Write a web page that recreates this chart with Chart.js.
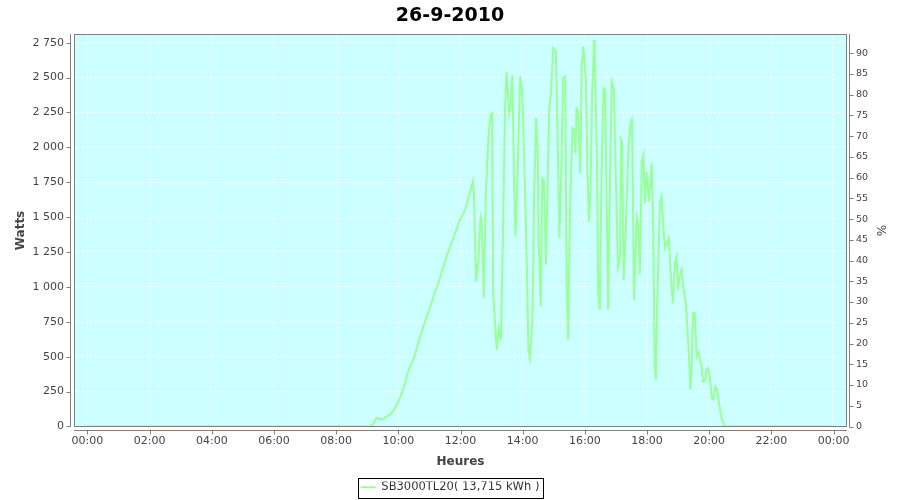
<!DOCTYPE html>
<html>
<head>
<meta charset="utf-8">
<title>26-9-2010</title>
<script src="https://cdn.jsdelivr.net/npm/chart.js@4.4.0/dist/chart.umd.min.js"></script>
<style>
  html, body { margin: 0; padding: 0; background: #fff; }
  #wrap { width: 900px; height: 500px; }
</style>
</head>
<body>
<div id="wrap"><canvas id="chart" width="900" height="500"></canvas></div>
<script>
// time of day in minutes
const minutes = [0, 545, 551, 558, 568, 578, 584, 590, 597, 607,
  613, 619, 626, 632, 642, 655, 668, 680, 693, 706,
  719, 729, 735, 744, 746, 750, 754, 759, 761, 765,
  769, 774, 778, 781, 783, 790, 794, 798, 801, 806,
  809, 814, 817, 820, 823, 826, 830, 835, 839, 844,
  848, 851, 854, 859, 862, 866, 869, 871, 875, 878,
  881, 885, 888, 891, 895, 899, 904, 907, 911, 915,
  918, 922, 925, 928, 931, 936, 939, 942, 944, 947,
  951, 954, 957, 962, 965, 968, 971, 974, 978, 979,
  983, 986, 989, 992, 996, 999, 1002, 1005, 1008, 1012,
  1016, 1020, 1024, 1028, 1030, 1032, 1035, 1039, 1044, 1048,
  1051, 1055, 1060, 1063, 1066, 1070, 1073, 1076, 1079, 1084,
  1089, 1092, 1095, 1097, 1100, 1105, 1108, 1111, 1115, 1118,
  1122, 1126, 1130, 1134, 1137, 1140, 1143, 1147, 1150, 1155,
  1160, 1164, 1166, 1169, 1172, 1176, 1180, 1185, 1188, 1192,
  1195, 1198, 1201, 1205, 1208, 1212, 1215, 1217, 1221, 1224,
  1227, 1231, 1440];

// power in watts
const watts = [0, 0, 15, 60, 48, 72, 84, 110, 155, 239,
  310, 394, 455, 513, 644, 788, 931, 1062, 1217, 1349,
  1480, 1551, 1635, 1755, 1660, 1038, 1170, 1504, 1480, 919,
  1671, 2076, 2232, 2244, 955, 549, 704, 621, 1170, 2291,
  2542, 2244, 2303, 2518, 1886, 1360, 1766, 2506, 2411, 1766,
  1170, 549, 490, 764, 1647, 2208, 2005, 1313, 859, 1778,
  1766, 1158, 1695, 2268, 2411, 2709, 2690, 2172, 1349, 1886,
  2494, 2506, 1027, 621, 1504, 2136, 2124, 1957, 2280, 2268,
  1814, 2578, 2721, 2482, 1838, 1468, 1695, 2363, 2769, 2674,
  2005, 931, 836, 1766, 2423, 2411, 1647, 836, 1647, 2470,
  2411, 1766, 1146, 1217, 2053, 2029, 1050, 1408, 1981, 2172,
  2196, 907, 1504, 1456, 1086, 1898, 1945, 1599, 1826, 1611,
  1886, 1408, 418, 334, 931, 1599, 1647, 1456, 1277, 1313,
  1349, 1074, 883, 1170, 1217, 979, 1074, 1122, 1000, 880,
  573, 263, 406, 812, 812, 500, 530, 430, 322, 330,
  406, 418, 358, 200, 195, 286, 270, 210, 120, 60,
  29, 0, 0];

const hourTicks = [0, 120, 240, 360, 480, 600, 720, 840, 960, 1080, 1200, 1320, 1440];
const hourLabels = ['00:00', '02:00', '04:00', '06:00', '08:00', '10:00', '12:00',
  '14:00', '16:00', '18:00', '20:00', '22:00', '00:00'];
const wattTicks = [0, 250, 500, 750, 1000, 1250, 1500, 1750, 2000, 2250, 2500, 2750];
const wattLabels = ['0', '250', '500', '750', '1 000', '1 250', '1 500', '1 750',
  '2 000', '2 250', '2 500', '2 750'];
const percentTicks = [0, 5, 10, 15, 20, 25, 30, 35, 40, 45, 50, 55, 60, 65, 70, 75, 80, 85, 90];

const seriesLabel = 'SB3000TL20( 13,715 kWh )';
const FONT = '"DejaVu Sans", Verdana, sans-serif';
const AXIS = '#444';

// background, plot outline, offset axis lines, legend frame
const plotFrame = {
  id: 'plotFrame',
  beforeDraw(chart) {
    const { ctx, chartArea: a } = chart;
    ctx.save();
    ctx.fillStyle = '#fff';
    ctx.fillRect(0, 0, chart.width, chart.height);
    ctx.fillStyle = '#ccffff';
    ctx.fillRect(a.left, a.top, a.right - a.left, a.bottom - a.top);
    ctx.restore();
  },
  afterDraw(chart) {
    const { ctx, chartArea: a, scales } = chart;
    ctx.save();
    ctx.lineWidth = 1;
    ctx.strokeStyle = '#808080';
    ctx.strokeRect(a.left + 0.5, a.top + 0.5, a.right - a.left - 1, a.bottom - a.top - 1);

    ctx.beginPath();
    // left axis
    const lx = a.left - 3.5;
    ctx.moveTo(lx, a.top); ctx.lineTo(lx, a.bottom);
    scales.y.ticks.forEach(t => {
      const py = Math.round(scales.y.getPixelForValue(t.value)) + 0.5;
      ctx.moveTo(lx - 4, py); ctx.lineTo(lx, py);
    });
    // right axis
    const rx = a.right + 2.5;
    ctx.moveTo(rx, a.top); ctx.lineTo(rx, a.bottom);
    scales.y2.ticks.forEach(t => {
      const py = Math.round(scales.y2.getPixelForValue(t.value)) + 0.5;
      ctx.moveTo(rx, py); ctx.lineTo(rx + 4, py);
    });
    // bottom axis
    const by = a.bottom + 3.5;
    ctx.moveTo(a.left, by); ctx.lineTo(a.right, by);
    scales.x.ticks.forEach(t => {
      const px = Math.round(scales.x.getPixelForValue(t.value)) + 0.5;
      ctx.moveTo(px, by); ctx.lineTo(px, by + 4);
    });
    ctx.stroke();

    // legend box
    const hb = chart.legend.legendHitBoxes[0];
    if (hb) {
      ctx.strokeStyle = '#000';
      ctx.strokeRect(Math.round(hb.left) - 2.5, Math.round(hb.top) - 3.5,
        Math.round(hb.width) + 6, Math.round(hb.height) + 8);
    }
    ctx.restore();
  }
};

const points = minutes.map((m, i) => ({ x: m, y: watts[i] }));

new Chart(document.getElementById('chart'), {
  type: 'line',
  data: {
    datasets: [{
      label: seriesLabel,
      data: points,
      borderColor: '#99ff99',
      backgroundColor: '#99ff99',
      borderWidth: 2,
      pointRadius: 0,
      tension: 0,
      xAxisID: 'x',
      yAxisID: 'y'
    }]
  },
  options: {
    responsive: false,
    animation: false,
    events: [],
    layout: { padding: { top: 0, left: 0, right: 0, bottom: -3 } },
    plugins: {
      title: {
        display: true,
        text: '26-9-2010',
        color: '#000',
        font: { family: FONT, size: 19, weight: 'bold' },
        padding: { top: 5, bottom: 6.2 }
      },
      legend: {
        position: 'bottom',
        labels: {
          usePointStyle: true,
          pointStyle: 'line',
          pointStyleWidth: 15,
          padding: 0,
          color: '#333',
          font: { family: FONT, size: 11.5 }
        }
      },
      tooltip: { enabled: false }
    },
    scales: {
      x: {
        type: 'linear',
        min: -26,
        max: 1466,
        afterBuildTicks: s => { s.ticks = hourTicks.map(v => ({ value: v })); },
        afterFit: s => { s.height = 76 - s.chart.legend.height; },
        ticks: {
          callback: (v, i) => hourLabels[i],
          autoSkip: false,
          maxRotation: 0,
          color: AXIS,
          font: { family: FONT, size: 11 },
          padding: 8
        },
        grid: { color: '#fff', drawTicks: false },
        border: { display: false, dash: [2, 2] },
        title: {
          display: true,
          text: 'Heures',
          color: AXIS,
          font: { family: FONT, size: 12, weight: 'bold' },
          padding: { top: 0, bottom: 12.8 }
        }
      },
      y: {
        position: 'left',
        min: -4,
        max: 2812,
        afterBuildTicks: s => { s.ticks = wattTicks.map(v => ({ value: v })); },
        afterFit: s => { s.width = 74; },
        ticks: {
          callback: (v, i) => wattLabels[i],
          color: AXIS,
          font: { family: FONT, size: 11 },
          padding: 10
        },
        grid: { color: '#fff', drawTicks: false },
        border: { display: false, dash: [2, 2] },
        title: {
          display: true,
          text: 'Watts',
          color: AXIS,
          font: { family: FONT, size: 12, weight: 'bold' },
          padding: { top: 14, bottom: 0 }
        }
      },
      y2: {
        position: 'right',
        min: -0.12,
        max: 94.6,
        afterBuildTicks: s => { s.ticks = percentTicks.map(v => ({ value: v })); },
        afterFit: s => { s.width = 53; },
        ticks: {
          color: AXIS,
          font: { family: FONT, size: 9.5 },
          padding: 9
        },
        grid: { drawOnChartArea: false, drawTicks: false },
        border: { display: false },
        title: {
          display: true,
          text: '%',
          color: AXIS,
          font: { family: FONT, size: 12 },
          padding: { top: 13, bottom: 0 }
        }
      }
    }
  },
  plugins: [plotFrame]
});
</script>
</body>
</html>
